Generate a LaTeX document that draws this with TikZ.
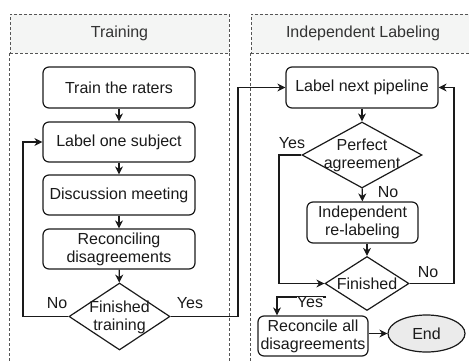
\documentclass[tikz,border=0pt]{standalone}
\usepackage{fontspec}
\setmainfont{Liberation Sans}
\usetikzlibrary{shapes.geometric,arrows.meta,calc}
\definecolor{ink}{HTML}{1A1A1A}
\definecolor{lanegray}{HTML}{555555}
\definecolor{headfill}{HTML}{F4F5F4}
\definecolor{endfill}{HTML}{EBEBEB}
\begin{document}
\begin{tikzpicture}[x=1pt,y=-1pt,
  every node/.style={font=\fontsize{16}{18}\selectfont, text=ink, align=center},
  box/.style 2 args={draw=ink, line width=1.2pt, rounded corners=6pt, minimum width=#1pt, minimum height=#2pt, inner sep=0pt},
  dia/.style 2 args={diamond, draw=ink, line width=1.2pt, minimum width=#1pt, minimum height=#2pt, inner sep=0pt},
  flow/.style={draw=ink, line width=1.2pt, -{Stealth[length=8pt,width=8pt,inset=2.5pt]}},
  lane/.style={draw=lanegray, line width=0.9pt, dash pattern=on 3pt off 2pt},
  lanehead/.style={lane, fill=headfill, inner sep=0pt, text=black!80},
  elabel/.style={inner sep=1pt}
]
\useasboundingbox (0,0) rectangle (469,360);
% lanes
\node[lanehead, minimum width=219pt, minimum height=39pt] (thead) at (119.5,33.5) {Training};
\draw[lane] (thead.south west) -- ++(0,310);
\draw[lane] (thead.south east) -- ++(0,310);
\node[lanehead, minimum width=224pt, minimum height=39pt] (ihead) at (363,33.5) {Independent Labeling};
\draw[lane] (ihead.south west) -- ++(0,310);
% left column
\node[box={152}{41}] (train) at (119,87.5) {Train the raters};
\node[box={152}{40}] (label1) at (119,142) {Label one subject};
\node[box={152}{40}] (discuss) at (119,195) {Discussion meeting};
\node[box={152}{40}] (reconc) at (119,249) {Reconciling\\disagreements};
\node[dia={101}{67}] (fin1) at (119.5,316.5) {};
\node (fin1t) at (119.5,317) {Finished\\training};
% right column
\node[box={152}{41}] (next) at (362,87.5) {Label next pipeline};
\node[dia={120}{66}] (perf) at (362,155) {};
\node (perft) at (362,155) {Perfect\\agreement};
\node[box={111}{41}] (relab) at (362.5,222.5) {Independent\\re-labeling};
\node[dia={84}{54}] (fin2) at (367,283.5) {};
\node (fin2t) at (367,284) {Finished};
\node[box={110}{40}] (recon) at (313,336) {Reconcile all\\disagreements};
\node[ellipse, draw=ink, line width=1.2pt, fill=endfill, minimum width=77pt, minimum height=37pt, inner sep=0pt] (endn) at (426.5,333.5) {End};
% helper coordinates
\coordinate (nl) at (23,0);
\coordinate (yl) at (238,0);
\coordinate (yr) at (279,0);
\coordinate (nr) at (454,0);
\coordinate (yb) at (277,0);
\coordinate (ys) at ($(fin2.west)+(2,13.5)$);
% connectors
\draw[flow] (train) -- (label1);
\draw[flow] (label1) -- (discuss);
\draw[flow] (discuss) -- (reconc);
\draw[flow] (reconc) -- (fin1);
\draw[flow] (fin1.west) -- (fin1.west -| nl) |- (label1.west);
\draw[flow] (fin1.east) -- (fin1.east -| yl) |- (next.west);
\draw[flow] (next) -- (perf);
\draw[flow] (perf) -- (relab);
\draw[flow] (perf.west) -- (perf.west -| yr) |- (fin2.west);
\draw[flow] (fin2.north |- relab.south) -- (fin2.north);
\draw[flow] (fin2.east) -- (fin2.east -| nr) |- (next.east);
\draw[flow] (ys) -| (yb |- recon.north);
\draw[flow] (recon.east |- endn.west) -- (endn.west);
% edge labels
\node[elabel] (lno1) at (57,303) {No};
\node[elabel] (lyes1) at (190,303) {Yes};
\node[elabel] (lyes2) at (292,143) {Yes};
\node[elabel] (lno2) at (388,192) {No};
\node[elabel] (lno3) at (428,272) {No};
\node[fill=white, inner sep=0.3pt] (lyes3) at (310,302.5) {Yes};
\end{tikzpicture}
\end{document}
